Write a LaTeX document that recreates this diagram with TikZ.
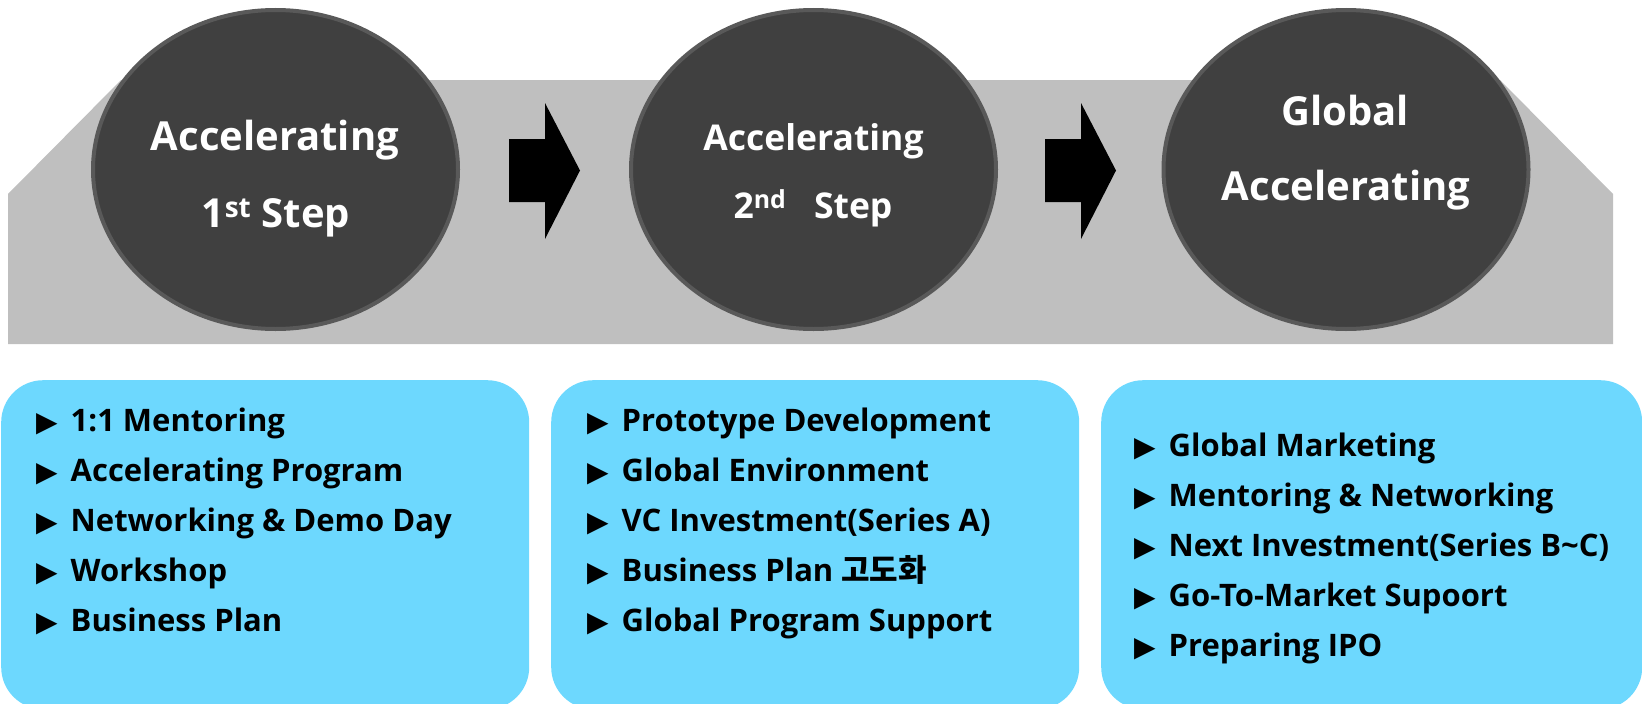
\documentclass[tikz,border=0pt]{standalone}
\usepackage{fontspec}
\setmainfont{Open Sans}
\newfontfamily\krfont{Noto Sans CJK KR}
\newfontfamily\symfont{DejaVu Sans}
\usetikzlibrary{shapes.geometric}
\definecolor{bandgray}{HTML}{BFBFBF}
\definecolor{circfill}{HTML}{404040}
\definecolor{circline}{HTML}{595959}
\definecolor{skyblue}{HTML}{6DD8FE}
\newcommand{\bulmark}{{\symfont\fontsize{28}{30}\selectfont ▶}\hspace{13pt}}
\tikzset{
  stepcircle/.style={ellipse, draw=circline, line width=4pt, fill=circfill,
    minimum width=365pt, minimum height=319pt, inner sep=0pt},
  circtext/.style={anchor=base, text=white, font=\bfseries\fontsize{40}{48}\selectfont, inner sep=0pt},
  circtextb/.style={anchor=base, text=white, font=\bfseries\fontsize{35.5}{44}\selectfont, inner sep=0pt},
  listbox/.style={fill=skyblue, rounded corners=42pt, anchor=north west,
    minimum height=329pt, inner sep=0pt},
  itemtext/.style={anchor=base west, inner sep=0pt, font=\bfseries\fontsize{31}{36}\selectfont},
  blockarrow/.style={fill=black}
}
\begin{document}
\begin{tikzpicture}[x=1pt,y=-1pt]
\useasboundingbox (0,0) rectangle (1642,704);
% band
\fill[bandgray] (8,194) -- (121,80) -- (1500,80) -- (1613,194) -- (1613,344) -- (8,344) -- cycle;
% circles
\node[stepcircle] (c1) at (275.5,169.5) {};
\node[stepcircle] (c2) at (813.5,169.5) {};
\node[stepcircle] (c3) at (1346,169.5) {};
% circle texts
\node[circtext] (c1a) at (275,150) {Accelerating};
\node[circtext] (c1b) at (276,227) {1\textsuperscript{st} Step};
\node[circtextb] (c2a) at (813.5,150) {Accelerating};
\node[circtextb] (c2b) at (813,218) {2\textsuperscript{nd}\ \ \ Step};
\node[circtext] (c3a) at (1345,125) {Global};
\node[circtext] (c3b) at (1346,200) {Accelerating};
% block arrows
\fill[blockarrow] (509,139) -- (545,139) -- (545,103) -- (580,170.5) -- (545,239) -- (545,202) -- (509,202) -- cycle;
\fill[blockarrow] (1045,139) -- (1081,139) -- (1081,103) -- (1116,170.5) -- (1081,239) -- (1081,202) -- (1045,202) -- cycle;
% boxes
\node[listbox, minimum width=528pt] (b1) at (1,380) {};
\node[listbox, minimum width=528pt] (b2) at (551,380) {};
\node[listbox, minimum width=541pt] (b3) at (1101,380) {};
% box 1 items
\node[itemtext] (i11) at (36,431) {\bulmark 1:1 Mentoring};
\node[itemtext] (i12) at (36,481) {\bulmark Accelerating Program};
\node[itemtext] (i13) at (36,531) {\bulmark Networking \& Demo Day};
\node[itemtext] (i14) at (36,581) {\bulmark Workshop};
\node[itemtext] (i15) at (36,631) {\bulmark Business Plan};
% box 2 items
\node[itemtext] (i21) at (587,431) {\bulmark Prototype Development};
\node[itemtext] (i22) at (587,481) {\bulmark Global Environment};
\node[itemtext] (i23) at (587,531) {\bulmark VC Investment(Series A)};
\node[itemtext] (i24) at (587,581) {\bulmark Business Plan {\krfont 고도화}};
\node[itemtext] (i25) at (587,631) {\bulmark Global Program Support};
% box 3 items
\node[itemtext] (i31) at (1134,456) {\bulmark Global Marketing};
\node[itemtext] (i32) at (1134,506) {\bulmark Mentoring \& Networking};
\node[itemtext] (i33) at (1134,556) {\bulmark Next Investment(Series B\char"007E C)};
\node[itemtext] (i34) at (1134,606) {\bulmark Go-To-Market Supoort};
\node[itemtext] (i35) at (1134,656) {\bulmark Preparing IPO};
\end{tikzpicture}
\end{document}
